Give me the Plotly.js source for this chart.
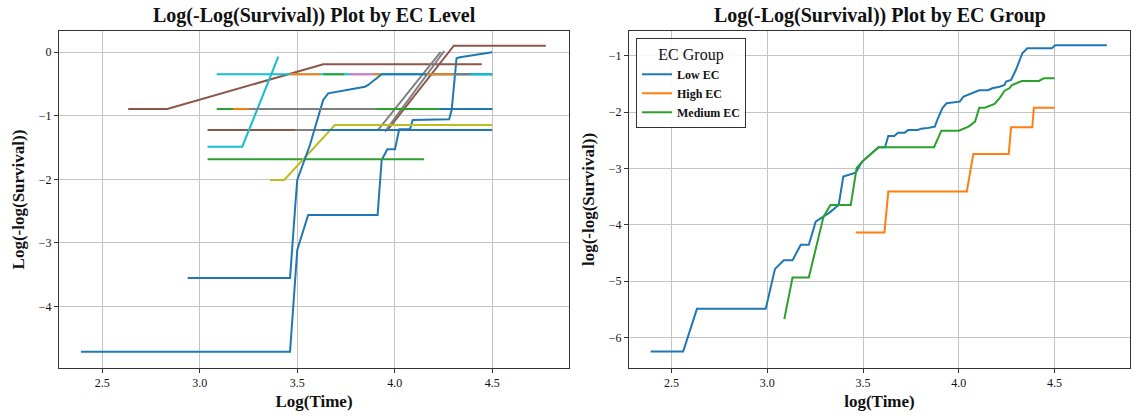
<!DOCTYPE html>
<html>
<head>
<meta charset="utf-8">
<script src="https://cdn.plot.ly/plotly-3.0.1.min.js"></script>
<style>html,body{margin:0;padding:0;background:#fff;}#chart{width:1139px;height:416px;}</style>
</head>
<body>
<div id="chart"></div>
<script>
// ---------- Left panel: one line per EC level (log time vs log(-log S)) ----------
const lvlA_x = [2.391, 3.463, 3.500, 3.556, 3.912, 3.933, 3.962, 4.001, 4.023, 4.078, 4.092, 4.279, 4.292, 4.317, 4.334, 4.500];
const lvlA_y = [-4.715, -4.715, -3.113, -2.562, -2.562, -1.696, -1.528, -1.528, -1.213, -1.213, -1.066, -1.055, -0.909, -0.094, -0.079, 0.0];

const lvlB_x = [2.938, 3.463, 3.492, 3.500, 3.565, 3.633, 3.659, 3.847, 3.864, 3.933, 4.500];
const lvlB_y = [-3.554, -3.554, -2.326, -2.011, -1.460, -0.751, -0.646, -0.542, -0.515, -0.346, -0.346];

const lvlC_x = [2.633, 2.833, 3.633, 4.446];
const lvlC_y = [-0.893, -0.893, -0.189, -0.189];

const lvlD_x = [3.040, 3.963, 4.303, 4.775];
const lvlD_y = [-1.224, -1.224, 0.104, 0.104];

const lvlE_x = [3.488, 3.914, 4.236];
const lvlE_y = [-1.224, -1.224, 0.005];
const lvlE2_x = [3.950, 4.254];
const lvlE2_y = [-1.250, 0.020];

const lvlF_x = [3.040, 3.218, 3.403];
const lvlF_y = [-1.487, -1.487, -0.069];

const lvlG_x = [3.040, 4.150];
const lvlG_y = [-1.685, -1.685];

const lvlH_x = [3.360, 3.433, 3.693, 4.500];
const lvlH_y = [-2.011, -2.011, -1.145, -1.145];

// flat levels at log(-log S) = -0.346
const flat1_y = [-0.346, -0.346];
const flat1a_x = [3.087, 4.500];  // cyan
const flat1b_x = [3.463, 3.617];  // orange
const flat1c_x = [3.633, 3.741];  // green
const flat1d_x = [3.770, 3.890];  // pink
const flat1e_x = [3.890, 3.933];  // orange
const flat1f_x = [4.164, 4.300];  // orange
const flat1g_x = [4.300, 4.386];  // gray
const flat1h_x = [4.386, 4.500];  // cyan

// flat levels at -0.894
const flat2_y = [-0.894, -0.894];
const flat2a_x = [3.087, 4.500];  // green
const flat2b_x = [3.171, 3.252];  // orange
const flat2c_x = [3.252, 3.907];  // gray
const flat2d_x = [4.228, 4.500];  // blue

// flat level at -1.224
const flat3_y = [-1.224, -1.224];
const flat3a_x = [3.625, 4.500];  // blue

// ---------- Right panel: EC groups ----------
const groups = ["Low EC", "High EC", "Medium EC"];
const low_x = [2.391, 2.561, 2.633, 2.992, 3.040, 3.086, 3.132, 3.175, 3.217, 3.253, 3.325, 3.373, 3.397, 3.462, 3.496, 3.581, 3.615, 3.632, 3.663, 3.683, 3.718, 3.735, 3.786, 3.803, 3.837, 3.863, 3.875, 3.888, 3.914, 3.936, 3.974, 4.005, 4.025, 4.059, 4.107, 4.153, 4.175, 4.213, 4.239, 4.247, 4.273, 4.298, 4.316, 4.332, 4.358, 4.486, 4.503, 4.773];
const low_y = [-6.248, -6.248, -5.491, -5.491, -4.787, -4.628, -4.628, -4.356, -4.356, -3.943, -3.784, -3.647, -3.145, -3.074, -2.879, -2.624, -2.624, -2.424, -2.424, -2.365, -2.365, -2.317, -2.317, -2.294, -2.282, -2.270, -2.259, -2.140, -1.933, -1.844, -1.826, -1.816, -1.727, -1.684, -1.613, -1.613, -1.578, -1.550, -1.520, -1.461, -1.431, -1.254, -1.106, -0.957, -0.869, -0.869, -0.816, -0.816];
const high_x = [3.462, 3.612, 3.632, 4.042, 4.076, 4.261, 4.273, 4.384, 4.392, 4.500];
const high_y = [-4.138, -4.138, -3.411, -3.411, -2.743, -2.743, -2.270, -2.270, -1.922, -1.922];
const med_x = [3.089, 3.132, 3.217, 3.294, 3.330, 3.436, 3.467, 3.496, 3.581, 3.871, 3.909, 4.000, 4.051, 4.085, 4.107, 4.136, 4.187, 4.213, 4.239, 4.264, 4.278, 4.329, 4.418, 4.444, 4.500];
const med_y = [-5.674, -4.936, -4.936, -3.855, -3.647, -3.647, -2.991, -2.879, -2.624, -2.624, -2.330, -2.330, -2.259, -2.170, -1.922, -1.922, -1.856, -1.755, -1.621, -1.578, -1.520, -1.449, -1.449, -1.401, -1.401];

const xTicks = [2.5, 3.0, 3.5, 4.0, 4.5];
const yTicksLeft = [0, -1, -2, -3, -4];
const yTicksRight = [-1, -2, -3, -4, -5, -6];

// ---------- styling ----------
const C = {blue:'#1f77b4', orange:'#ff7f0e', green:'#2ca02c', brown:'#8c564b', pink:'#e377c2', gray:'#7f7f7f', olive:'#bcbd22', cyan:'#17becf'};
const SERIF = '"Liberation Serif", "Times New Roman", serif';
const LW = 2;

function L(x, y, color, extra) {
  return Object.assign({x: x, y: y, type: 'scatter', mode: 'lines', line: {color: color, width: LW},
    xaxis: 'x', yaxis: 'y', showlegend: false, hoverinfo: 'skip'}, extra || {});
}

const traces = [
  L(lvlA_x, lvlA_y, C.blue),
  L(lvlC_x, lvlC_y, C.brown),
  L(lvlD_x, lvlD_y, C.brown),
  L(lvlE_x, lvlE_y, C.gray),
  L(lvlE2_x, lvlE2_y, C.gray),
  L(lvlF_x, lvlF_y, C.cyan),
  L(lvlG_x, lvlG_y, C.green),
  L(lvlH_x, lvlH_y, C.olive),
  L(flat1a_x, flat1_y, C.cyan),
  L(flat1b_x, flat1_y, C.orange),
  L(flat1c_x, flat1_y, C.green),
  L(flat1d_x, flat1_y, C.pink),
  L(flat1e_x, flat1_y, C.orange),
  L(lvlB_x, lvlB_y, C.blue),
  L(flat1f_x, flat1_y, C.orange),
  L(flat1g_x, flat1_y, C.gray),
  L(flat1h_x, flat1_y, C.cyan),
  L(flat2a_x, flat2_y, C.green),
  L(flat2b_x, flat2_y, C.orange),
  L(flat2c_x, flat2_y, C.gray),
  L(flat2d_x, flat2_y, C.blue),
  L(flat3a_x, flat3_y, C.blue),
  // right panel
  {x: low_x, y: low_y, type: 'scatter', mode: 'lines', name: groups[0], line: {color: C.blue, width: LW}, xaxis: 'x2', yaxis: 'y2'},
  {x: high_x, y: high_y, type: 'scatter', mode: 'lines', name: groups[1], line: {color: C.orange, width: LW}, xaxis: 'x2', yaxis: 'y2'},
  {x: med_x, y: med_y, type: 'scatter', mode: 'lines', name: groups[2], line: {color: C.green, width: LW}, xaxis: 'x2', yaxis: 'y2'}
];

const axBase = {
  showline: true, mirror: true, linecolor: '#333', linewidth: 1,
  showgrid: true, gridcolor: '#c4c4c4', gridwidth: 1, zeroline: false,
  ticks: 'outside', ticklen: 4, tickwidth: 1, tickcolor: '#333',
  tickfont: {family: SERIF, size: 12, color: '#111'}
};
const yDom = [0.1154, 0.9255];
const axTitleFont = {family: SERIF, size: 17, color: '#111'};

const layout = {
  width: 1139, height: 416,
  margin: {l: 0, r: 0, t: 0, b: 0},
  paper_bgcolor: '#fff', plot_bgcolor: '#fff',
  font: {family: SERIF, color: '#111'},
  xaxis: Object.assign({}, axBase, {domain: [0.0518, 0.4996], range: [2.278, 4.894], tickvals: xTicks, tickformat: '.1f',
    title: {text: '<b>Log(Time)</b>', font: axTitleFont, standoff: 5}, anchor: 'y'}),
  yaxis: Object.assign({}, axBase, {domain: yDom, range: [-4.97, 0.335], tickvals: yTicksLeft,
    title: {text: '<b>Log(-log(Survival))</b>', font: axTitleFont, standoff: 9}, anchor: 'x'}),
  xaxis2: Object.assign({}, axBase, {domain: [0.5522, 0.9921], range: [2.278, 4.894], tickvals: xTicks, tickformat: '.1f',
    title: {text: '<b>log(Time)</b>', font: axTitleFont, standoff: 5}, anchor: 'y2'}),
  yaxis2: Object.assign({}, axBase, {domain: yDom, range: [-6.54, -0.562], tickvals: yTicksRight,
    title: {text: '<b>log(-log(Survival))</b>', font: axTitleFont, standoff: 9}, anchor: 'x2'}),
  annotations: [
    {text: '<b>Log(-Log(Survival)) Plot by EC Level</b>', xref: 'paper', yref: 'paper', x: 0.2757, y: 0.962, xanchor: 'center', yanchor: 'middle', showarrow: false, font: {family: SERIF, size: 20, color: '#111'}},
    {text: '<b>Log(-Log(Survival)) Plot by EC Group</b>', xref: 'paper', yref: 'paper', x: 0.7722, y: 0.962, xanchor: 'center', yanchor: 'middle', showarrow: false, font: {family: SERIF, size: 20, color: '#111'}}
  ],
  legend: {
    x: 0.5584, y: 0.9087, xanchor: 'left', yanchor: 'top',
    bgcolor: 'rgba(255,255,255,0.9)', bordercolor: '#333', borderwidth: 1,
    font: {family: SERIF, size: 12, color: '#111', weight: 'bold'},
    title: {text: 'EC Group', side: 'top center', font: {family: SERIF, size: 16, color: '#111', weight: 'normal'}},
    tracegroupgap: 0, itemwidth: 30
  },
  showlegend: true
};

Plotly.newPlot('chart', traces, layout, {displayModeBar: false, staticPlot: true});
</script>
</body>
</html>
